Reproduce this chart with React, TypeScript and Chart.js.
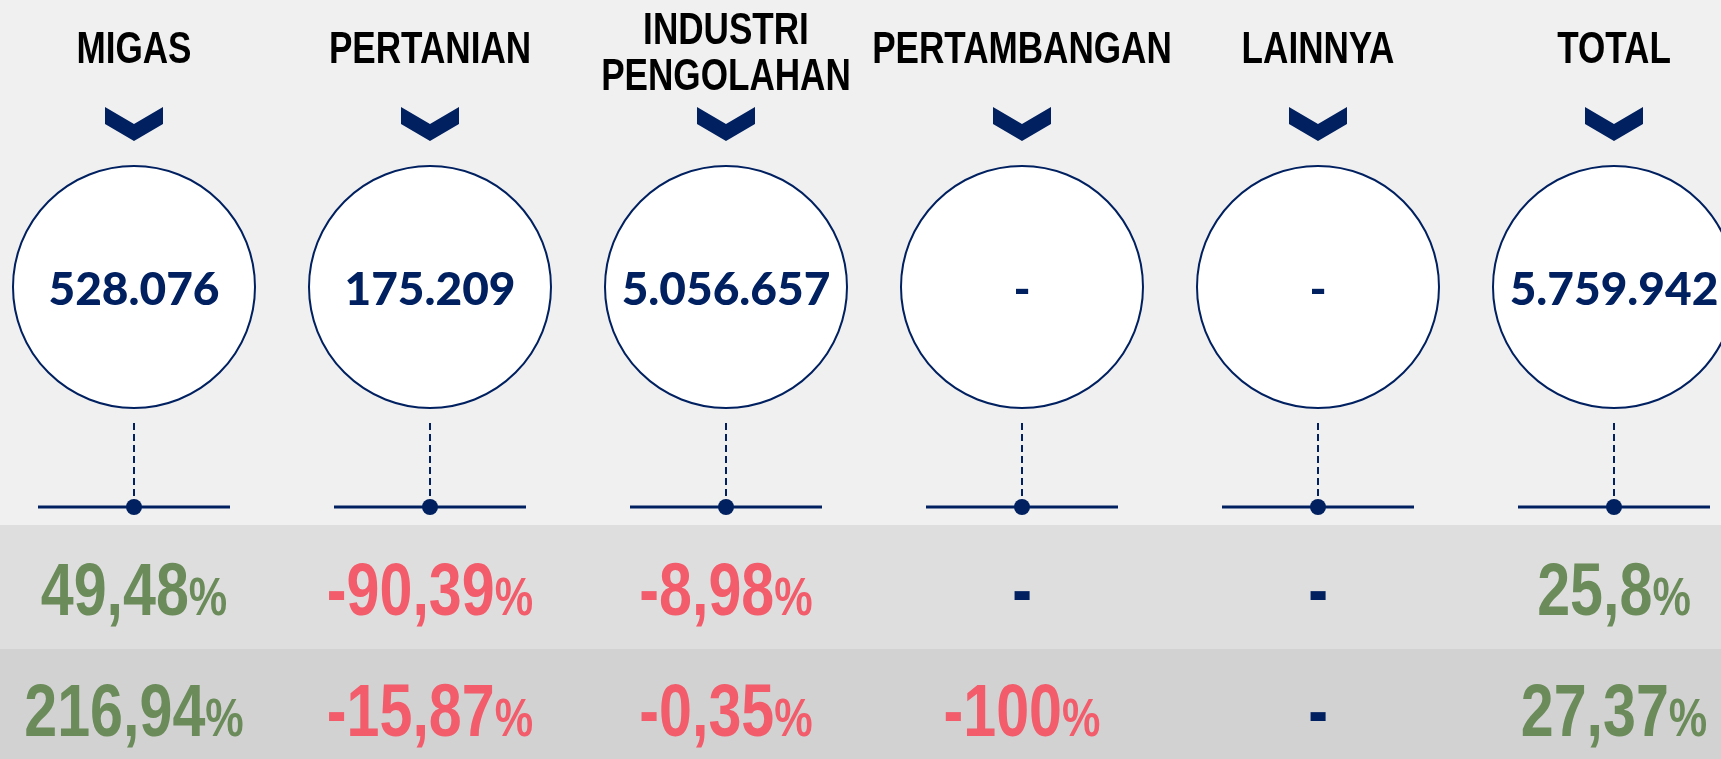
import React, { useEffect, useRef } from "react";
import { Chart, registerables } from "chart.js";

Chart.register(...registerables);

// ---------- data ----------
const categories: string[][] = [
  ["MIGAS"],
  ["PERTANIAN"],
  ["INDUSTRI", "PENGOLAHAN"],
  ["PERTAMBANGAN"],
  ["LAINNYA"],
  ["TOTAL"],
];
const totals: (number | null)[] = [528076, 175209, 5056657, null, null, 5759942];
const growthRow1: (number | null)[] = [49.48, -90.39, -8.98, null, null, 25.8];
const growthRow2: (number | null)[] = [216.94, -15.87, -0.35, -100, null, 27.37];

// ---------- layout (y-scale units, top = 0) ----------
const CANVAS_W = 1721;
const CANVAS_H = 759;
const X_MIN = -0.4527;
const X_MAX = 5.3615;
const TITLE_BASE_SINGLE = 63;
const TITLE_BASE_DOUBLE = [44, 90];
const CHEVRON_TOP = 107;
const CHEVRON_W = 58;
const CHEVRON_H = 34;
const CIRCLE_Y = 287;
const CIRCLE_R = 121;
const VALUE_BASE = 305;
const DASH_TOP = 423;
const LINE_Y = 507;
const LINE_HALF = 96;
const DOT_R = 8;
const BAND1_TOP = 525;
const BAND2_TOP = 649;
const ROW1_BASE = 615;
const ROW2_BASE = 736;

// ---------- styles ----------
const NAVY = "#002060";
const GREEN = "#6B8C5A";
const RED = "#F25C6B";
const BG_TOP = "#F0F0F0";
const BG_BAND1 = "#DEDEDE";
const BG_BAND2 = "#D2D2D2";
const SANS = '"Liberation Sans", Arial, sans-serif';
const TITLE_FONT = `bold 45px ${SANS}`;
const TITLE_SX = 0.78;
const VALUE_FONT = '900 46px Lato, "Open Sans", sans-serif';
const PCT_NUM_FONT = `bold 74px ${SANS}`;
const PCT_SIGN_FONT = `bold 54px ${SANS}`;
const PCT_SX = 0.8;

function fmtThousands(v: number | null): string {
  if (v === null) return "-";
  return String(v).replace(/\B(?=(\d{3})+(?!\d))/g, ".");
}
function fmtPct(v: number): string {
  return String(v).replace(".", ",");
}

function narrowText(ctx: CanvasRenderingContext2D, text: string, cx: number, base: number, sx: number) {
  ctx.save();
  ctx.translate(cx, base);
  ctx.scale(sx, 1);
  ctx.textAlign = "center";
  ctx.textBaseline = "alphabetic";
  ctx.fillText(text, 0, 0);
  ctx.restore();
}

function drawPct(ctx: CanvasRenderingContext2D, v: number | null, cx: number, base: number) {
  ctx.save();
  ctx.textBaseline = "alphabetic";
  if (v === null) {
    ctx.font = PCT_NUM_FONT;
    ctx.fillStyle = NAVY;
    narrowText(ctx, "-", cx, base, PCT_SX);
    ctx.restore();
    return;
  }
  const num = fmtPct(v);
  ctx.font = PCT_NUM_FONT;
  const wNum = ctx.measureText(num).width;
  ctx.font = PCT_SIGN_FONT;
  const wSign = ctx.measureText("%").width;
  ctx.translate(cx, base);
  ctx.scale(PCT_SX, 1);
  const start = -(wNum + wSign) / 2;
  ctx.fillStyle = v < 0 ? RED : GREEN;
  ctx.textAlign = "left";
  ctx.font = PCT_NUM_FONT;
  ctx.fillText(num, start, 0);
  ctx.font = PCT_SIGN_FONT;
  ctx.fillText("%", start + wNum, 0);
  ctx.restore();
}

const infographicPlugin = {
  id: "infographic",
  beforeDraw(chart: any) {
    const { ctx } = chart;
    const y = chart.scales.y;
    const w = chart.width;
    const h = chart.height;
    ctx.save();
    ctx.fillStyle = BG_TOP;
    ctx.fillRect(0, 0, w, h);
    const b1 = y.getPixelForValue(BAND1_TOP);
    const b2 = y.getPixelForValue(BAND2_TOP);
    ctx.fillStyle = BG_BAND1;
    ctx.fillRect(0, b1, w, b2 - b1);
    ctx.fillStyle = BG_BAND2;
    ctx.fillRect(0, b2, w, h - b2);
    ctx.restore();
  },
  beforeDatasetsDraw(chart: any) {
    const { ctx } = chart;
    const x = chart.scales.x;
    const y = chart.scales.y;
    ctx.save();
    categories.forEach((lines, i) => {
      const px = x.getPixelForValue(i);
      // dashed connector
      ctx.strokeStyle = NAVY;
      ctx.lineWidth = 2;
      ctx.setLineDash([7, 4]);
      ctx.beginPath();
      ctx.moveTo(px, y.getPixelForValue(DASH_TOP));
      ctx.lineTo(px, y.getPixelForValue(LINE_Y));
      ctx.stroke();
      ctx.setLineDash([]);
      // chevron
      const top = y.getPixelForValue(CHEVRON_TOP);
      const hw = CHEVRON_W / 2;
      const arm = CHEVRON_H / 2;
      ctx.fillStyle = NAVY;
      ctx.beginPath();
      ctx.moveTo(px - hw, top);
      ctx.lineTo(px, top + arm);
      ctx.lineTo(px + hw, top);
      ctx.lineTo(px + hw, top + arm);
      ctx.lineTo(px, top + CHEVRON_H);
      ctx.lineTo(px - hw, top + arm);
      ctx.closePath();
      ctx.fill();
      // title
      ctx.font = TITLE_FONT;
      ctx.fillStyle = "#000000";
      if (lines.length === 1) {
        narrowText(ctx, lines[0], px, y.getPixelForValue(TITLE_BASE_SINGLE), TITLE_SX);
      } else {
        lines.forEach((t, k) => narrowText(ctx, t, px, y.getPixelForValue(TITLE_BASE_DOUBLE[k]), TITLE_SX));
      }
    });
    ctx.restore();
  },
  afterDatasetsDraw(chart: any) {
    const { ctx } = chart;
    const x = chart.scales.x;
    const y = chart.scales.y;
    ctx.save();
    categories.forEach((_, i) => {
      const px = x.getPixelForValue(i);
      ctx.font = VALUE_FONT;
      ctx.fillStyle = NAVY;
      ctx.textAlign = "center";
      ctx.textBaseline = "alphabetic";
      ctx.fillText(fmtThousands(totals[i]), px, y.getPixelForValue(VALUE_BASE));
      drawPct(ctx, growthRow1[i], px, y.getPixelForValue(ROW1_BASE));
      drawPct(ctx, growthRow2[i], px, y.getPixelForValue(ROW2_BASE));
    });
    ctx.restore();
  },
};

export default function App() {
  const ref = useRef<HTMLCanvasElement | null>(null);
  useEffect(() => {
    if (!ref.current) return;
    const idx = categories.map((_, i) => i);
    const chart = new Chart(ref.current, {
      type: "scatter",
      data: {
        datasets: [
          {
            label: "dots",
            data: idx.map((i) => ({ x: i, y: LINE_Y })),
            pointRadius: DOT_R,
            pointBackgroundColor: NAVY,
            pointBorderWidth: 0,
            clip: false,
          } as any,
          {
            label: "lines",
            data: idx.map((i) => ({ x: i, y: LINE_Y })),
            pointStyle: "line",
            pointRadius: LINE_HALF,
            pointBorderColor: NAVY,
            pointBorderWidth: 3,
            clip: false,
          } as any,
          {
            label: "circles",
            data: idx.map((i) => ({ x: i, y: CIRCLE_Y })),
            pointRadius: CIRCLE_R,
            pointBackgroundColor: "#FFFFFF",
            pointBorderColor: NAVY,
            pointBorderWidth: 2,
            clip: false,
          } as any,
        ],
      },
      options: {
        responsive: false,
        animation: false,
        devicePixelRatio: 1,
        events: [],
        layout: { padding: 0, autoPadding: false },
        plugins: { legend: { display: false }, tooltip: { enabled: false } },
        scales: {
          x: { type: "linear", min: X_MIN, max: X_MAX, display: false },
          y: { type: "linear", min: 0, max: CANVAS_H, reverse: true, display: false },
        },
      },
      plugins: [infographicPlugin],
    });
    return () => chart.destroy();
  }, []);
  return (
    <canvas
      ref={ref}
      width={CANVAS_W}
      height={CANVAS_H}
      style={{ position: "absolute", left: 0, top: 0, display: "block" }}
    />
  );
}
